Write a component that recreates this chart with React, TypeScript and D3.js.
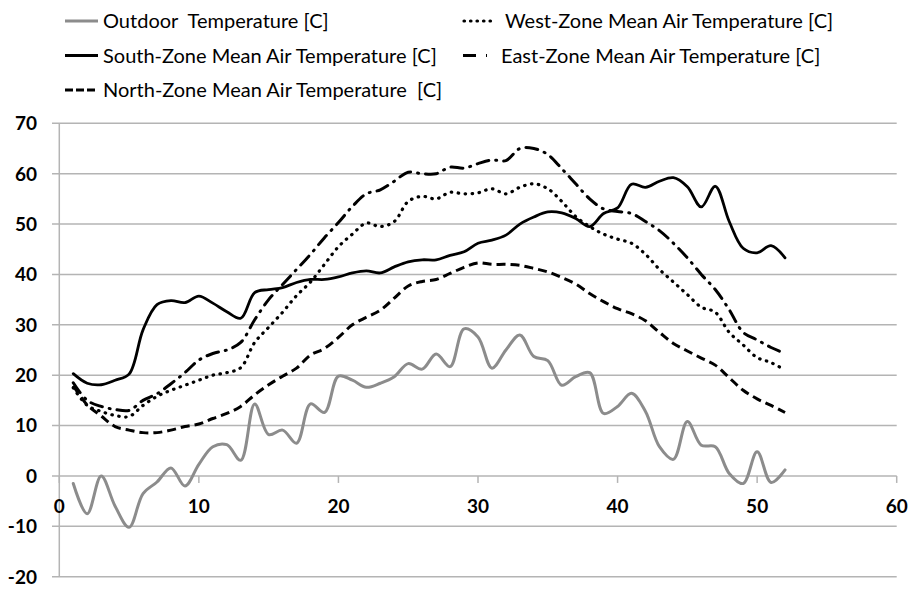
import * as d3 from "d3";

const weeks = d3.range(1, 53);

const outdoor = [
  -1.5, -7.5, 0, -6, -10.2, -3.5, -1.2, 1.6, -2, 2.3, 5.8, 6.2, 3.1, 14.3, 8.2, 9.1, 6.5, 14.3, 12.6, 19.8,
  19.0, 17.6, 18.4, 19.7, 22.3, 21.2, 24.2, 21.7, 29.2, 27.6, 21.4, 25, 28, 23.7, 22.9, 18, 19.7, 20.5, 12.4, 13.8,
  16.4, 12.8, 5.8, 3.3, 10.8, 6.1, 5.8, 0.5, -1.5, 4.8, -1.3, 1.2,
];
const south = [
  20.3, 18.4, 18.1, 19, 20.2, 29, 34, 34.8, 34.4, 35.7, 34.3, 32.6, 31.3, 36.4, 37, 37.4, 38.4, 39, 39, 39.5,
  40.3, 40.7, 40.3, 41.5, 42.5, 42.9, 42.9, 43.8, 44.5, 46.2, 46.8, 47.8, 50, 51.4, 52.4, 52.2, 51.1, 49.5, 52.1, 53.2,
  57.9, 57.3, 58.5, 59.2, 57.4, 53.4, 57.5, 50.5, 45.2, 44.3, 45.7, 43.3,
];
const north = [
  17.9, 14.1, 11.9, 9.8, 9.1, 8.6, 8.6, 9.1, 9.8, 10.3, 11.4, 12.4, 13.8, 16.1, 18.1, 19.8, 21.4, 24, 25.3, 27.5,
  30, 31.5, 32.9, 35.3, 37.7, 38.6, 39, 40.2, 41.4, 42.3, 42, 42, 41.8, 41.2, 40.5, 39.4, 38.1, 36.2, 34.6, 33.2,
  32.2, 30.8, 28.5, 26.3, 24.8, 23.4, 22, 19.5, 17, 15.3, 14, 12.6,
];
const west = [
  17.5, 14, 12.8, 12, 11.8, 14, 15.8, 17, 18, 19, 20, 20.5, 21.5, 26.5, 29.5, 32.5, 35.8, 38.5, 42, 45.5,
  48, 50.2, 49.5, 50.5, 54.5, 55.5, 55, 56.3, 56, 56.2, 57, 56, 57.3, 58, 57, 54.5, 51.5, 49.5, 48, 47,
  46.2, 44, 41, 38.5, 36, 33.5, 32.5, 28.5, 26, 23.5, 22.5, 21,
];
const east = [
  18.5, 15, 13.8, 13.2, 13, 15, 16.3, 18.3, 20.5, 23, 24.3, 25, 26.5, 31, 35, 38, 41, 44, 47.3, 50.3,
  53.5, 56, 56.8, 58.5, 60.3, 60, 60, 61.3, 61.1, 62, 62.7, 62.6, 65, 65, 63.8, 61, 58, 55, 53, 52.5,
  52.1, 50.5, 48.7, 46.2, 43.3, 40, 37, 33, 28.5, 27, 25.5, 24.3,
];

const xTicks = [0, 10, 20, 30, 40, 50, 60];
const yTicks = [-20, -10, 0, 10, 20, 30, 40, 50, 60, 70];

const seriesNames = [
  "Outdoor  Temperature [C]",
  "South-Zone Mean Air Temperature [C]",
  "North-Zone Mean Air Temperature  [C]",
  "West-Zone Mean Air Temperature [C]",
  "East-Zone Mean Air Temperature [C]",
];

const series = [
  { name: seriesNames[0], values: outdoor, color: "#8c8c8c", dash: "none", width: 3, cap: "round" },
  { name: seriesNames[1], values: south, color: "#000", dash: "none", width: 2.8, cap: "round" },
  { name: seriesNames[2], values: north, color: "#000", dash: "9,5", width: 3, cap: "butt" },
  { name: seriesNames[3], values: west, color: "#000", dash: "0.5,6.5", width: 3.2, cap: "round" },
  { name: seriesNames[4], values: east, color: "#000", dash: "12,7,1,7", width: 3, cap: "round" },
];

// legend: sample start, sample end, text start, row center
const legendSlots = [
  { x0: 65, x1: 98, tx: 103, cy: 21, dash: "none" },
  { x0: 65, x1: 98, tx: 103, cy: 55.5, dash: "none" },
  { x0: 65, x1: 98, tx: 103, cy: 90, dash: "8,3" },
  { x0: 464, x1: 495, tx: 505, cy: 21, dash: "0.5,6" },
  { x0: 463, x1: 490, tx: 501, cy: 55.5, dash: "13,10,1,10" },
];

export default function App() {
  const W = 911;
  const H = 590;
  const x = d3.scaleLinear().domain([0, 60]).range([59.3, 896.7]);
  const y = d3.scaleLinear().domain([-20, 70]).range([576.7, 123.3]);
  const line = d3
    .line<number>()
    .x((_, i) => x(weeks[i]))
    .y((d) => y(d))
    .curve(d3.curveCatmullRom.alpha(0.5));

  const font = "Lato, 'Noto Sans', sans-serif";

  return (
    <svg
      width={W}
      height={H}
      style={{ position: "absolute", left: 0, top: 0, background: "#fff" }}
      fontFamily={font}
    >
      <rect width={W} height={H} fill="#fff" />
      {/* gridlines */}
      {yTicks.map((t) => (
        <line key={t} x1={52} x2={x(60)} y1={y(t)} y2={y(t)} stroke="#b4b4b4" strokeWidth={1.5} />
      ))}
      {/* y axis */}
      <line x1={x(0)} x2={x(0)} y1={y(70)} y2={y(-20)} stroke="#b4b4b4" strokeWidth={1.5} />
      {/* x axis ticks */}
      {xTicks.map((t) => (
        <line key={t} x1={x(t)} x2={x(t)} y1={y(0)} y2={y(0) + 7} stroke="#b4b4b4" strokeWidth={1.5} />
      ))}
      {yTicks.map((t) => (
        <text
          key={t}
          x={37}
          y={y(t)}
          dy="0.36em"
          textAnchor="end"
          fontWeight="bold"
          fontSize={19}
          fill="#000"
        >
          {t}
        </text>
      ))}
      {xTicks.map((t) => (
        <text
          key={t}
          x={x(t)}
          y={y(0) + 30}
          dy="0.36em"
          textAnchor="middle"
          fontWeight="bold"
          fontSize={19}
          fill="#000"
        >
          {t}
        </text>
      ))}
      {/* lines */}
      {series.map((s) => (
        <path
          key={s.name}
          d={line(s.values) ?? ""}
          fill="none"
          stroke={s.color}
          strokeWidth={s.width}
          strokeDasharray={s.dash}
          strokeLinecap={s.cap as any}
          strokeLinejoin="round"
        />
      ))}
      {/* legend */}
      {series.map((s, i) => {
        const slot = legendSlots[i];
        return (
          <g key={s.name}>
            <line
              x1={slot.x0}
              x2={slot.x1}
              y1={slot.cy}
              y2={slot.cy}
              stroke={s.color}
              strokeWidth={s.width}
              strokeDasharray={slot.dash}
              strokeLinecap={i === 3 ? "round" : "butt"}
            />
            <text
              x={slot.tx}
              y={slot.cy}
              dy="0.36em"
              fontSize={20}
              fill="#000"
              style={{ whiteSpace: "pre" }}
            >
              {s.name}
            </text>
          </g>
        );
      })}
    </svg>
  );
}
